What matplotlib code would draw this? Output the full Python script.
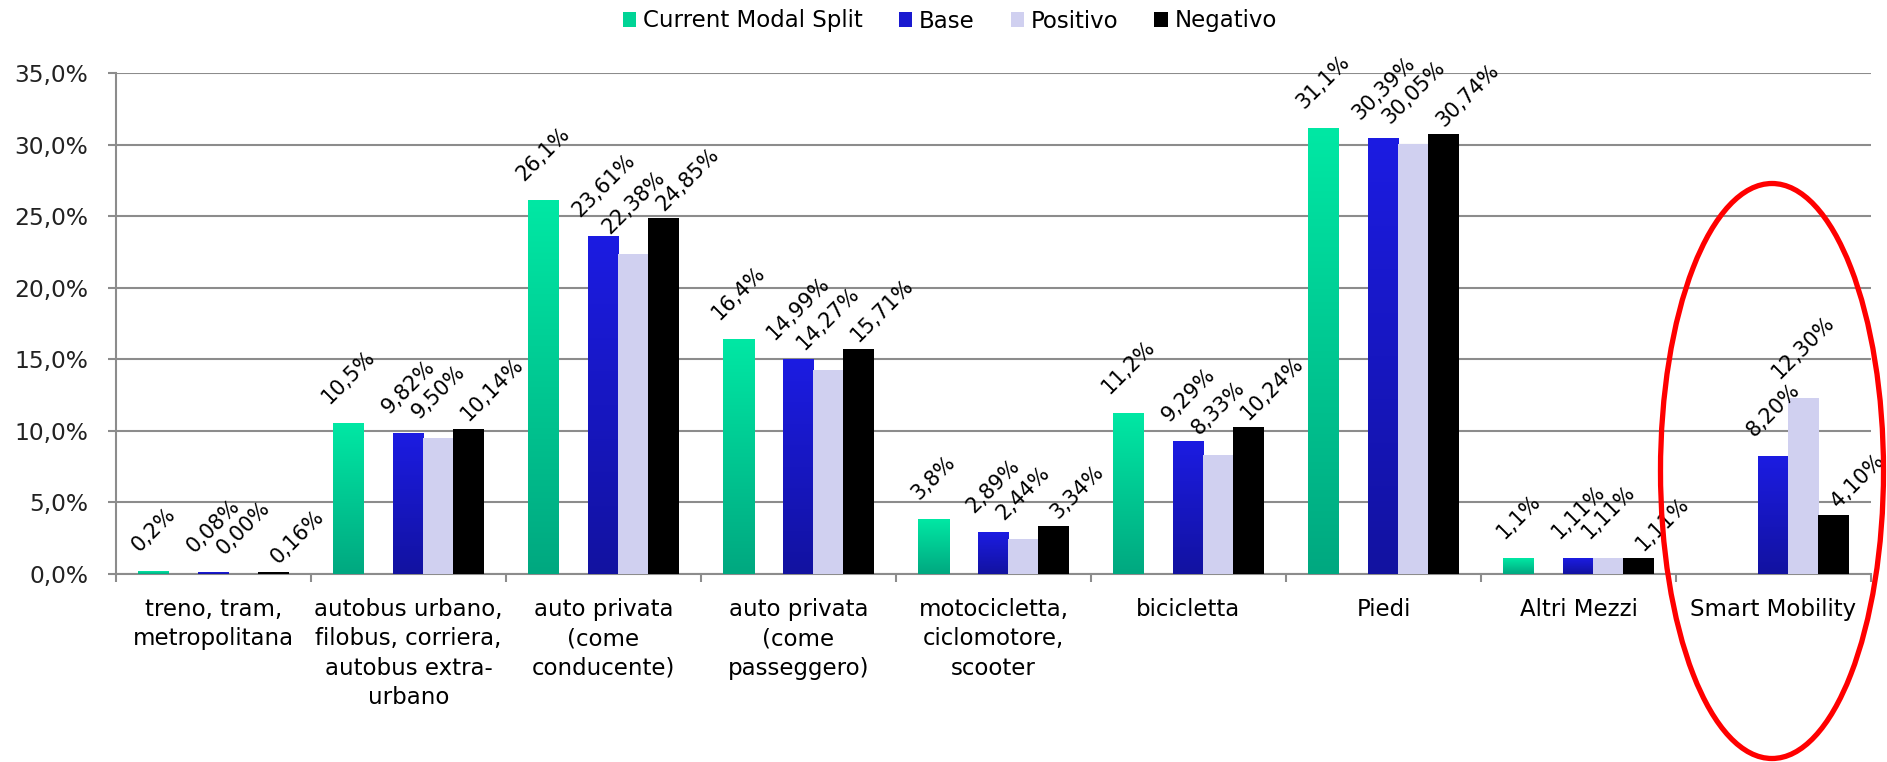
import numpy as np
import matplotlib
matplotlib.use("Agg")
import matplotlib.pyplot as plt
from matplotlib.patches import Ellipse, Patch
from matplotlib.colors import LinearSegmentedColormap

# ---------------- data ----------------
categories = ["treno, tram,\nmetropolitana",
              "autobus urbano,\nfilobus, corriera,\nautobus extra-\nurbano",
              "auto privata\n(come\nconducente)",
              "auto privata\n(come\npasseggero)",
              "motocicletta,\nciclomotore,\nscooter",
              "bicicletta", "Piedi", "Altri Mezzi", "Smart Mobility"]
current_modal = [0.2, 10.5, 26.1, 16.4, 3.8, 11.2, 31.1, 1.1, np.nan]
base = [0.08, 9.82, 23.61, 14.99, 2.89, 9.29, 30.39, 1.11, 8.20]
positivo = [0.00, 9.50, 22.38, 14.27, 2.44, 8.33, 30.05, 1.11, 12.30]
negativo = [0.16, 10.14, 24.85, 15.71, 3.34, 10.24, 30.74, 1.11, 4.10]
series_names = ["Current Modal Split", "Base", "Positivo", "Negativo"]
yticks = [0, 5, 10, 15, 20, 25, 30, 35]

# ---------------- figure ----------------
W, H = 1887, 762
fig = plt.figure(figsize=(W / 100, H / 100), dpi=100)
ax = fig.add_axes([116 / W, 1 - 574 / H, (1871 - 116) / W, (574 - 73) / H])

FONT = "DejaVu Sans"
plt.rcParams["font.family"] = FONT

grid_col = "#8c8c8c"
slot = 30 / 195
bw = 31 / 195
offsets = [-2 * slot, 0, slot, 2 * slot]

green_cmap = LinearSegmentedColormap.from_list("g", ["#00a880", "#00e8a4"])
blue_cmap = LinearSegmentedColormap.from_list("b", ["#1212a0", "#1c1ce2"])
grad = np.linspace(0, 1, 256).reshape(-1, 1)

x = np.arange(len(categories))
data = [current_modal, base, positivo, negativo]
fmts = ["{:.1f}%", "{:.2f}%", "{:.2f}%", "{:.2f}%"]

for si, (vals, off) in enumerate(zip(data, offsets)):
    for xi, v in zip(x, vals):
        if np.isnan(v):
            continue
        x0 = xi + off - bw / 2
        x1 = xi + off + bw / 2
        if si == 0 or si == 1:
            cm = green_cmap if si == 0 else blue_cmap
            if v > 0:
                ax.imshow(grad, extent=[x0, x1, 0, v], origin="lower", cmap=cm,
                          aspect="auto", interpolation="bilinear", zorder=3)
            else:
                ax.bar(xi + off, v, width=bw, color=cm(0.5), zorder=3)
        elif si == 2:
            ax.bar(xi + off, v, width=bw, color="#d0d0f0", zorder=3)
        else:
            ax.bar(xi + off, v, width=bw, color="#000000", zorder=3)
        # data label
        lab = fmts[si].format(v).replace(".", ",")
        if si == 3:
            dx, dy = 24, 4
        else:
            dx, dy = 0, 16
        ax.annotate(lab, xy=(xi + off, v), xytext=(dx, dy), textcoords="offset pixels",
                    rotation=45, ha="center", va="bottom", fontsize=15,
                    color="black", zorder=5, annotation_clip=False)

ax.set_xlim(-0.5, len(categories) - 0.5)
ax.set_ylim(0, 35)

# grid and spines
ax.set_yticks(yticks)
ax.set_yticklabels([f"{t:.1f}%".replace(".", ",") for t in yticks], fontsize=16.8, color="#222222")
ax.yaxis.grid(True, color=grid_col, lw=1.5, zorder=1)
ax.set_axisbelow(True)
for s in ["top", "right"]:
    ax.spines[s].set_visible(False)
for s in ["left", "bottom"]:
    ax.spines[s].set_color(grid_col)
    ax.spines[s].set_linewidth(1.5)
ax.tick_params(axis="y", length=6, width=1.5, color=grid_col, pad=14)

ax.set_xticks(x)
ax.set_xticklabels(categories, fontsize=16.5, linespacing=1.36, color="black")
ax.tick_params(axis="x", which="major", length=0, pad=17)
ax.set_xticks(np.arange(len(categories) + 1) - 0.5, minor=True)
ax.tick_params(axis="x", which="minor", length=6, width=1.5, color=grid_col)

# legend
handles = [Patch(facecolor="#00d496"), Patch(facecolor="#1a1ad0"),
           Patch(facecolor="#d0d0f0"), Patch(facecolor="#000000")]
fig.legend(handles, series_names, loc="center", bbox_to_anchor=(950 / W, 1 - 21 / H),
           ncol=4, frameon=False, fontsize=16.5, handlelength=0.6, handleheight=0.6,
           handletextpad=0.3, columnspacing=1.55, borderaxespad=0)

# red ellipse highlighting Smart Mobility
ell = Ellipse((1772 / W, 1 - 471 / H), width=223 / W, height=575 / H,
              transform=fig.transFigure, fill=False, edgecolor="#ff0000", lw=3.8,
              clip_on=False, zorder=10)
fig.patches.append(ell)

fig.savefig("out.png", dpi=100)
